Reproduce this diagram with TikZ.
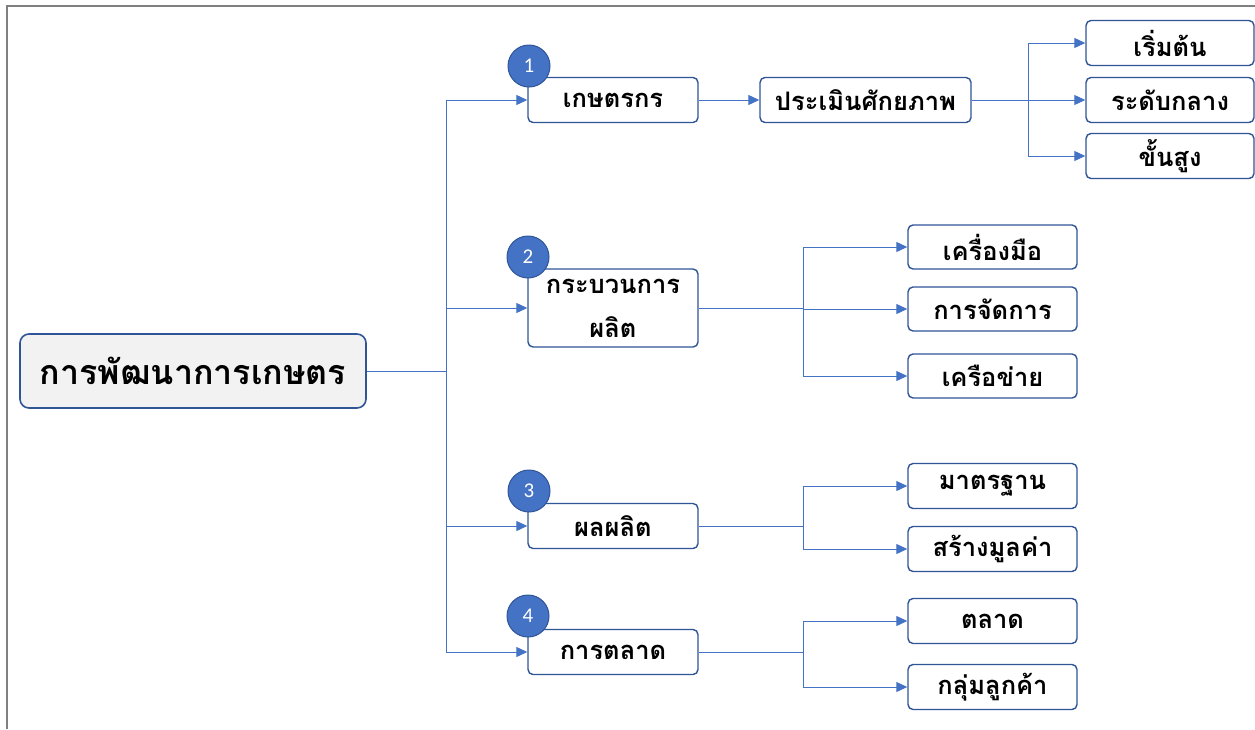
\documentclass[tikz,border=0pt]{standalone}
\usepackage{fontspec}
\newfontfamily\thai[Script=Thai]{Loma}
\newfontfamily\numfont{Carlito}
\usetikzlibrary{arrows.meta}
\definecolor{lineblue}{HTML}{4472C4}
\definecolor{boxblue}{HTML}{2F5597}
\definecolor{rootfill}{HTML}{F2F2F2}
\definecolor{framegray}{HTML}{808080}
\tikzset{
  box/.style={draw=boxblue, line width=1.4pt, rounded corners=5pt, fill=white,
    inner sep=0pt, align=center, font=\thai\bfseries\fontsize{25.5}{44}\selectfont},
  rootbox/.style={box, fill=rootfill, line width=1.6pt, rounded corners=9pt, font=\thai\bfseries\fontsize{34}{40}\selectfont},
  conn/.style={draw=lineblue, line width=1pt},
  arr/.style={conn, -{Triangle[length=11pt,width=10pt]}},
  badge/.style={circle, draw=boxblue, line width=1pt, fill=lineblue, minimum size=42pt,
    inner sep=0pt, text=white, font=\numfont\fontsize{21}{22}\selectfont}
}
\begin{document}
\begin{tikzpicture}[x=1pt,y=-1pt]
\useasboundingbox (0,0) rectangle (1255,729);
\draw[framegray, line width=2pt] (7,729) -- (7,6) -- (1256,6);

\node[rootbox, minimum width=346pt, minimum height=74pt] (root) at (193,371) {การพัฒนาการเกษตร};

\node[box, minimum width=170pt, minimum height=45pt] (a) at (613,100) {เกษตรกร};
\node[box, minimum width=170pt, minimum height=78pt] (b) at (613,308) {กระบวนการ\\ผลิต};
\node[box, minimum width=170pt, minimum height=45pt] (c) at (613,526) {ผลผลิต};
\node[box, minimum width=170pt, minimum height=45pt] (d) at (613,652) {การตลาด};

\node[badge] (n1) at (529,66) {1};
\node[badge] (n2) at (528,257) {2};
\node[badge] (n3) at (529,491) {3};
\node[badge] (n4) at (528,616) {4};

\node[box, minimum width=211pt, minimum height=45pt] (a1) at (865.5,100) {ประเมินศักยภาพ};
\node[box, minimum width=168pt, minimum height=45pt] (a11) at (1170,43) {เริ่มต้น};
\node[box, minimum width=168pt, minimum height=45pt] (a12) at (1170,100) {ระดับกลาง};
\node[box, minimum width=168pt, minimum height=45pt] (a13) at (1170,156) {ขั้นสูง};

\node[box, minimum width=169pt, minimum height=44pt] (b1) at (992.5,247) {เครื่องมือ};
\node[box, minimum width=169pt, minimum height=44pt] (b2) at (992.5,309) {การจัดการ};
\node[box, minimum width=169pt, minimum height=44pt] (b3) at (992.5,376) {เครือข่าย};

\node[box, minimum width=169pt, minimum height=45pt] (c1) at (992.5,486) {มาตรฐาน};
\node[box, minimum width=169pt, minimum height=45pt] (c2) at (992.5,549) {สร้างมูลค่า};

\node[box, minimum width=169pt, minimum height=45pt] (d1) at (992.5,621) {ตลาด};
\node[box, minimum width=169pt, minimum height=45pt] (d2) at (992.5,687) {กลุ่มลูกค้า};

\coordinate (j0) at (446,371);
\coordinate (ja) at (1028,100);
\coordinate (jb) at (803,308);
\coordinate (jc) at (803,526);
\coordinate (jd) at (803,652);

\draw[conn] (root.east) -- (j0);
\foreach \t in {a,b,c,d} \draw[arr] (j0) |- (\t.west);

\draw[arr] (a.east) -- (a1.west);
\draw[conn] (a1.east) -- (ja);
\foreach \t in {a11,a12,a13} \draw[arr] (ja) |- (\t.west);

\draw[conn] (b.east) -- (jb);
\foreach \t in {b1,b2,b3} \draw[arr] (jb) |- (\t.west);

\draw[conn] (c.east) -- (jc);
\foreach \t in {c1,c2} \draw[arr] (jc) |- (\t.west);

\draw[conn] (d.east) -- (jd);
\foreach \t in {d1,d2} \draw[arr] (jd) |- (\t.west);
\end{tikzpicture}
\end{document}
